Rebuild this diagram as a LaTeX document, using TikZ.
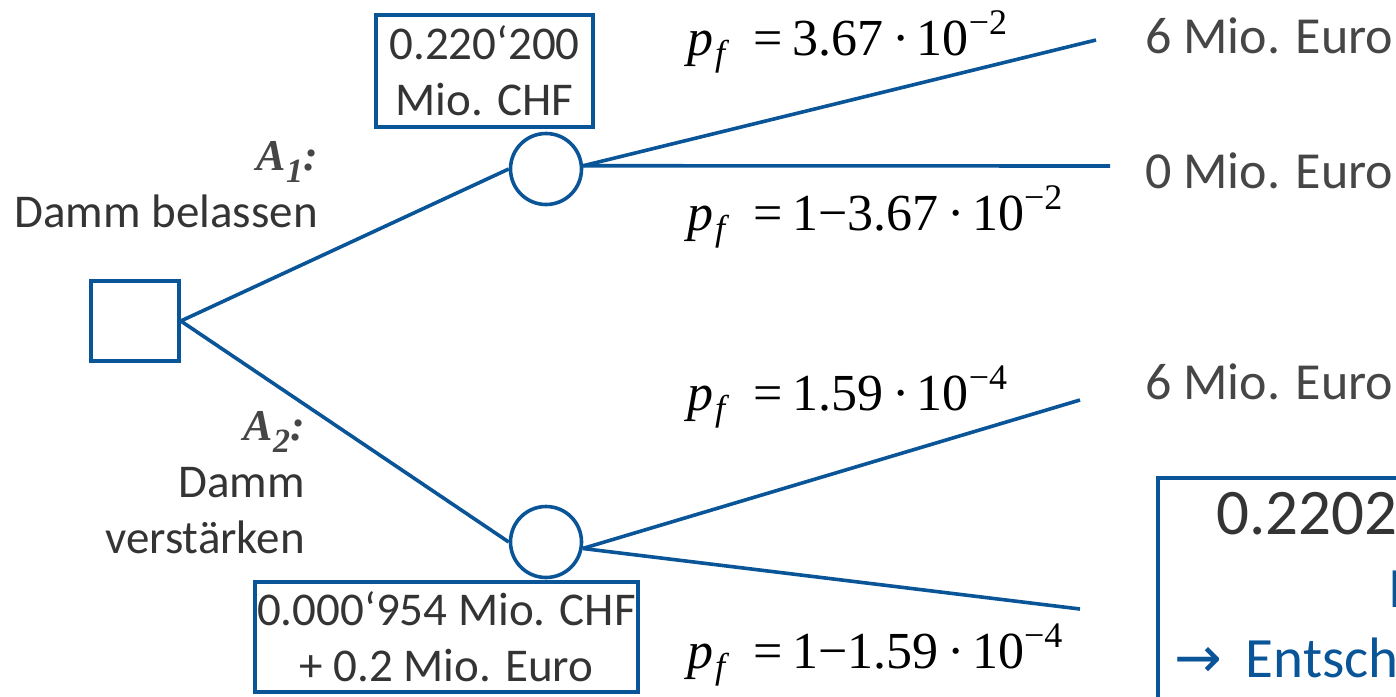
\documentclass[tikz,border=0pt]{standalone}
\usepackage{fontspec}
\setmainfont{Carlito}
\newfontfamily\tms{Liberation Serif}
\newfontfamily\tmsit{Liberation Serif Italic}
\newfontfamily\tmsbi{Liberation Serif Bold Italic}
\newfontfamily\arrowfont{DejaVu Sans}
\usetikzlibrary{positioning}
\definecolor{treeblue}{RGB}{10,84,152}
\definecolor{txtgray}{RGB}{52,52,52}
\definecolor{lblgray}{RGB}{70,70,70}
% probability labels p_f = ...
\newcommand{\pfeq}[1]{{\tmsit p}\hspace{2pt}\raisebox{-10pt}{\fontsize{36}{36}\selectfont\tmsit f}\hspace{28pt}=\hspace{10pt}#1}
\newcommand{\tpow}[1]{\hspace{9pt}·\hspace{7pt}10\raisebox{21pt}{\fontsize{36}{36}\selectfont −#1}}
\newcommand{\altlbl}[1]{{\tmsbi A\raisebox{-12pt}{\fontsize{34}{34}\selectfont #1}:}}

\begin{document}
\begin{tikzpicture}[x=1pt,y=-1pt]
\tikzset{
  decnode/.style={draw=treeblue,line width=3.6pt,minimum width=88pt,minimum height=80pt,inner sep=0pt},
  chancenode/.style={circle,draw=treeblue,line width=3.6pt,minimum size=71pt,inner sep=0pt},
  valbox/.style={draw=treeblue,fill=white,line width=3.6pt,align=center,inner sep=0pt,
    text=txtgray,font=\fontsize{47}{56}\selectfont},
  branch/.style={treeblue,line width=3.6pt},
  txt/.style={inner sep=0pt,text=txtgray,font=\fontsize{47}{56}\selectfont},
  outcome/.style={inner sep=0pt,anchor=base west,text=lblgray,font=\fontsize{52}{56}\selectfont},
  prob/.style={inner sep=0pt,anchor=base west,font=\tms\fontsize{52}{52}\selectfont},
  alt/.style={inner sep=0pt,anchor=base east,text=lblgray,font=\fontsize{44}{44}\selectfont}
}
\useasboundingbox (0,0) rectangle (1396,696);
\clip (0,0) rectangle (1396,696);

% nodes
\node[decnode] (n_dec) at (135,321) {};
\node[chancenode] (n_c1) at (546,169) {};
\node[chancenode] (n_c2) at (546,542) {};
\coordinate (e_11) at (1096,40);
\coordinate (e_12) at (1110,166);
\coordinate (e_21) at (1080,400);
\coordinate (e_22) at (1080,609);

% branches
\draw[branch] (n_dec.east) -- (n_c1.west);
\draw[branch] (n_dec.east) -- (n_c2.west);
\draw[branch] (n_c1.5) -- (e_11);
\draw[branch] (n_c1.5) -- (e_12);
\draw[branch] (n_c2.-10) -- (e_21);
\draw[branch] (n_c2.-10) -- (e_22);

% expected values
\node[valbox,minimum width=217pt,minimum height=112pt] (v_c1) at (484.5,71) {0.220‘200\\Mio. CHF};
\node[valbox,minimum width=383pt,minimum height=110pt] (v_c2) at (446.5,637) {0.000‘954 Mio. CHF\\+ 0.2 Mio. Euro};

% alternatives
\node[alt] (a_1) at (318,170) {\altlbl{1}};
\node[txt,anchor=base east] (a_1t) at (318,227) {Damm belassen};
\node[alt] (a_2) at (305,440) {\altlbl{2}};
\node[txt,anchor=north east,align=right] (a_2t) at (305,467) {Damm\\verstärken};

% probabilities
\node[prob] (p_11) at (687,55) {\pfeq{3.67\tpow{2}}};
\node[prob] (p_12) at (687,230) {\pfeq{1−3.67\tpow{2}}};
\node[prob] (p_21) at (687,410) {\pfeq{1.59\tpow{4}}};
\node[prob] (p_22) at (687,668) {\pfeq{1−1.59\tpow{4}}};

% outcomes
\node[outcome] (o_11) at (1145,53) {6 Mio. Euro};
\node[outcome] (o_12) at (1145,188) {0 Mio. Euro};
\node[outcome] (o_21) at (1145,399) {6 Mio. Euro};

% decision box
\node[draw=treeblue,line width=3.6pt,anchor=north west,minimum width=400pt,minimum height=300pt] (n_res) at (1156,476) {};
\node[inner sep=0pt,anchor=base west,text=txtgray,font=\fontsize{65}{65}\selectfont] (r_1) at (1216,534) {0.220200};
\node[inner sep=0pt,anchor=base west,text=treeblue,font=\fontsize{57}{57}\selectfont] (r_2) at (1388,607) {Mio. CHF};
\node[inner sep=0pt,anchor=base west,text=treeblue,font=\fontsize{57}{57}\selectfont] (r_3) at (1174,677) {{\arrowfont →}\hspace{24pt}Entscheidung};
\end{tikzpicture}
\end{document}
